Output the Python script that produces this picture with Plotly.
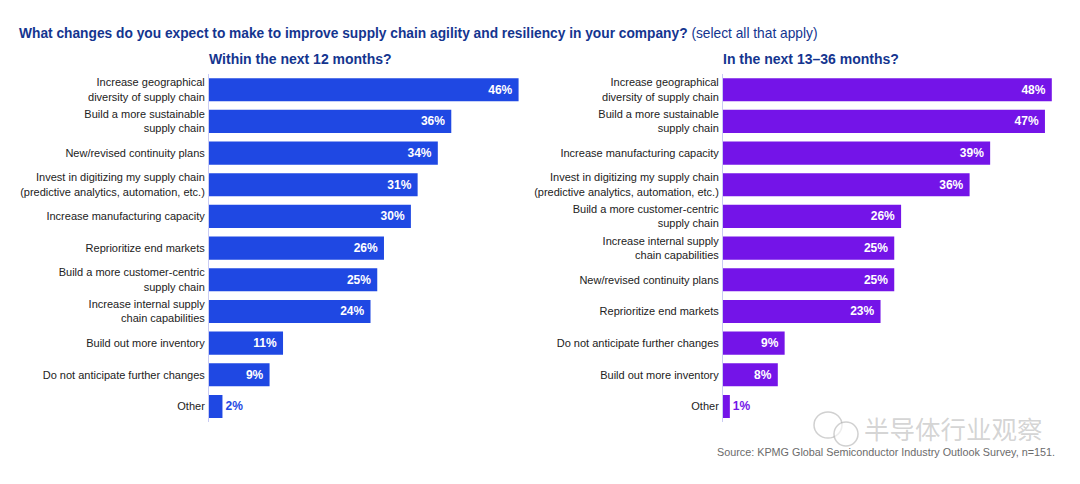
import plotly.graph_objects as go

# ---- data ----
left_categories = [
    "Increase geographical<br>diversity of supply chain",
    "Build a more sustainable<br>supply chain",
    "New/revised continuity plans",
    "Invest in digitizing my supply chain<br>(predictive analytics, automation, etc.)",
    "Increase manufacturing capacity",
    "Reprioritize end markets",
    "Build a more customer-centric<br>supply chain",
    "Increase internal supply<br>chain capabilities",
    "Build out more inventory",
    "Do not anticipate further changes",
    "Other",
]
left_values = [46, 36, 34, 31, 30, 26, 25, 24, 11, 9, 2]

right_categories = [
    "Increase geographical<br>diversity of supply chain",
    "Build a more sustainable<br>supply chain",
    "Increase manufacturing capacity",
    "Invest in digitizing my supply chain<br>(predictive analytics, automation, etc.)",
    "Build a more customer-centric<br>supply chain",
    "Increase internal supply<br>chain capabilities",
    "New/revised continuity plans",
    "Reprioritize end markets",
    "Do not anticipate further changes",
    "Build out more inventory",
    "Other",
]
right_values = [48, 47, 39, 36, 26, 25, 25, 23, 9, 8, 1]

title_main = "What changes do you expect to make to improve supply chain agility and resiliency in your company?"
title_note = "(select all that apply)"
left_title = "Within the next 12 months?"
right_title = "In the next 13\u201336 months?"
source_text = "Source: KPMG Global Semiconductor Industry Outlook Survey, n=151."
watermark = "半导体行业观察"

# ---- styles ----
BLUE = "#1f48e3"
PURPLE = "#7414e8"
NAVY = "#14358f"
FONT = "Liberation Sans, Arial, sans-serif"
OFF = 8                      # page body margin
W, H = 1080 - 2 * OFF, 484 - 2 * OFF


def py(y_px):
    return 1 - (y_px - OFF) / H


def px(x_px):
    return (x_px - OFF) / W


def positions(vals):
    return ["outside" if v < 5 else "inside" for v in vals]


def text_colors(vals, color):
    return ["white" if v >= 5 else color for v in vals]


def labels(vals):
    return [f"{v}%\u00a0" if v >= 5 else f"{v}%" for v in vals]


fig = go.Figure()

fig.add_trace(go.Bar(
    x=left_values, y=left_categories, orientation="h",
    marker=dict(color=BLUE, line=dict(width=0)),
    width=0.73,
    text=labels(left_values),
    textposition=positions(left_values),
    insidetextanchor="end",
    textfont=dict(family=FONT, size=12, color=text_colors(left_values, BLUE), weight="bold"),
    cliponaxis=False,
    xaxis="x", yaxis="y",
    hoverinfo="skip",
))
fig.add_trace(go.Bar(
    x=right_values, y=right_categories, orientation="h",
    marker=dict(color=PURPLE, line=dict(width=0)),
    width=0.73,
    text=labels(right_values),
    textposition=positions(right_values),
    insidetextanchor="end",
    textfont=dict(family=FONT, size=12, color=text_colors(right_values, PURPLE), weight="bold"),
    cliponaxis=False,
    xaxis="x2", yaxis="y2",
    hoverinfo="skip",
))

y_dom = [py(422.3), py(73.9)]
axis_common_y = dict(
    showline=True, linecolor="#c9cbf3", linewidth=1,
    ticks="", showgrid=False, zeroline=False,
    tickfont=dict(family=FONT, size=11, color="#222222"),
    ticklabelstandoff=1,
    range=[10.5, -0.5], type="category",
)
axis_common_x = dict(visible=False, range=[0, 50], showgrid=False, zeroline=False)

fig.update_layout(
    width=W, height=H,
    margin=dict(l=0, r=0, t=0, b=0),
    paper_bgcolor="white", plot_bgcolor="white",
    showlegend=False,
    uniformtext=dict(minsize=12, mode="show"),
    xaxis=dict(domain=[px(209), px(209 + 6.73 * 50)], anchor="y", **axis_common_x),
    yaxis=dict(domain=y_dom, anchor="x", categoryorder="array",
               categoryarray=left_categories, **axis_common_y),
    xaxis2=dict(domain=[px(723), px(723 + 6.85 * 50)], anchor="y2", **axis_common_x),
    yaxis2=dict(domain=y_dom, anchor="x2", categoryorder="array",
                categoryarray=right_categories, **axis_common_y),
    font=dict(family=FONT),
)

fig.add_annotation(
    x=px(17), y=py(33), xref="paper", yref="paper", xanchor="left", yanchor="middle",
    text=f"<b>{title_main}</b> {title_note}", showarrow=False,
    font=dict(family=FONT, size=13.75, color=NAVY),
)
fig.add_annotation(
    x=px(207), y=py(59), xref="paper", yref="paper", xanchor="left", yanchor="middle",
    text=f"<b>{left_title}</b>", showarrow=False,
    font=dict(family=FONT, size=14, color=NAVY),
)
fig.add_annotation(
    x=px(721), y=py(59), xref="paper", yref="paper", xanchor="left", yanchor="middle",
    text=f"<b>{right_title}</b>", showarrow=False,
    font=dict(family=FONT, size=14, color=NAVY),
)

# watermark icon (two speech bubbles) and text
WM = "rgba(170,170,170,0.55)"
fig.add_shape(type="circle", xref="paper", yref="paper",
              x0=px(814), x1=px(842), y0=py(438), y1=py(412),
              line=dict(color=WM, width=1.5), fillcolor="rgba(255,255,255,0.6)")
fig.add_shape(type="circle", xref="paper", yref="paper",
              x0=px(834), x1=px(858), y0=py(446), y1=py(422),
              line=dict(color=WM, width=1.5), fillcolor="rgba(255,255,255,0.6)")
fig.add_annotation(
    x=px(1045), y=py(427), xref="paper", yref="paper", xanchor="right", yanchor="middle",
    text=watermark, showarrow=False,
    font=dict(family="Noto Sans CJK SC", size=25.5, color="rgba(160,160,160,0.45)"),
)
fig.add_annotation(
    x=px(1057), y=py(452), xref="paper", yref="paper", xanchor="right", yanchor="middle",
    text=source_text, showarrow=False,
    font=dict(family=FONT, size=10.8, color="#6b6b6b"),
)

fig.write_html("out.html")
